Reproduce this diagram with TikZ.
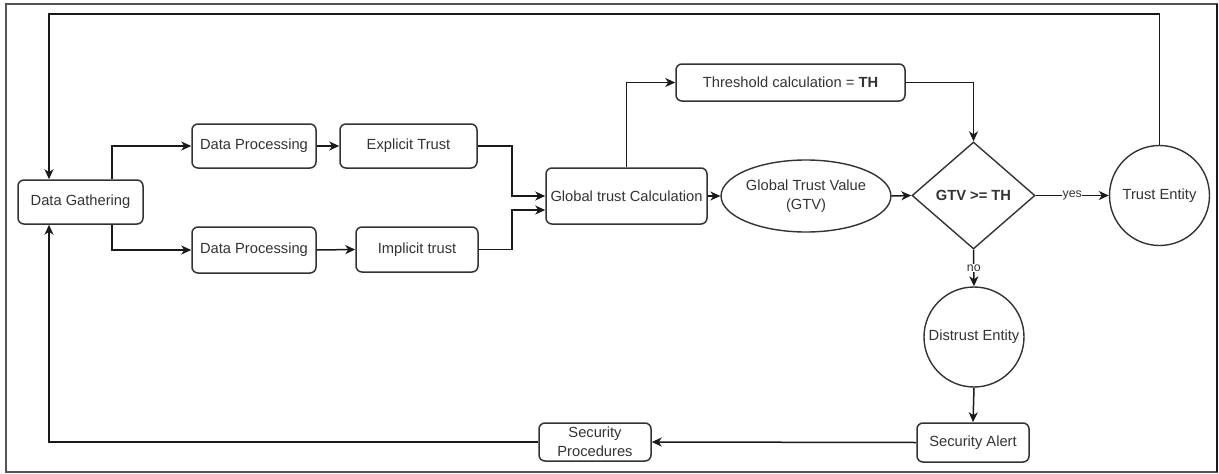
\documentclass[tikz,border=0pt]{standalone}
\usepackage{fontspec}
\setmainfont{Liberation Sans}
\usetikzlibrary{arrows.meta,shapes.geometric,calc}
\definecolor{ink}{HTML}{333333}
\definecolor{edge}{HTML}{1A1A1A}
\definecolor{frame}{HTML}{555555}

\begin{document}
\begin{tikzpicture}[x=1pt,y=-1pt,
  every node/.style={font=\fontsize{14.7}{19}\selectfont, text=ink},
  box/.style={draw=ink, line width=1.5pt, rounded corners=6pt, inner sep=0pt, align=center},
  round/.style={draw=ink, line width=1.4pt, circle, inner sep=0pt, minimum size=100pt},
  conn/.style={draw=edge, line width=1.5pt, -{Stealth[length=10pt,width=9pt,inset=3pt]}},
  lbl/.style={font=\fontsize{12.4}{14}\selectfont, fill=white, inner sep=0.5pt}
]
\useasboundingbox (0,0) rectangle (1219,474);

% outer frame
\draw[frame, line width=1.2pt] (6,4) rectangle (1217,472);
\draw[edge, line width=2pt] (1217,4) -- (1217,472);

% processing chain
\node[box, minimum width=125pt, minimum height=44pt] (dg) at (80.5,202) {Data Gathering};
\node[box, minimum width=124pt, minimum height=44pt] (dp1) at (254,146) {Data Processing};
\node[box, minimum width=137pt, minimum height=44pt] (et) at (408.5,146) {Explicit Trust};
\node[box, minimum width=124pt, minimum height=46pt] (dp2) at (254,250) {Data Processing};
\node[box, minimum width=122pt, minimum height=45pt] (it) at (417,249.5) {Implicit trust};
\node[box, minimum width=161pt, minimum height=56pt] (gtc) at (626.5,196) {Global trust Calculation};
\node[box, minimum width=229pt, minimum height=37pt] (th) at (790.5,82.5) {Threshold calculation = \textbf{TH}};
\node[draw=ink, line width=1.4pt, ellipse, inner sep=0pt, minimum width=136pt, minimum height=72pt, align=center] (gtv) at (806,196) {Global Trust Value\\(GTV)};
\node[draw=ink, line width=1.4pt, diamond, inner sep=0pt, minimum width=123pt, minimum height=107pt] (dia) at (973.5,195.5) {\textbf{GTV >= TH}};
\node[round] (te) at (1159.5,195.5) {Trust Entity};
\node[round] (de) at (974,337) {Distrust Entity};
\node[box, minimum width=112pt, minimum height=39pt] (sa) at (973,442.5) {Security Alert};
\node[box, minimum width=112pt, minimum height=38pt] (sp) at (595,442) {Security\\Procedures};

% routing points
\coordinate (tl) at (49,14);
\coordinate (bl) at (49,443);
\coordinate (fork) at (112,202);
\coordinate (join) at (512,196);

% connectors
\draw[conn] (te.north) |- (tl) -- (tl |- dg.north);
\draw[conn] (sp.west) -| (bl |- dg.south);
\draw[conn] (fork |- dg.north) |- (dp1.west);
\draw[conn] (fork |- dg.south) |- (dp2.west);
\draw[conn] (dp1.east) -- (et.west);
\draw[conn] (dp2.east) -- (it.west);
\draw[conn] (et.east) -| (join) -- (gtc.west);
\draw[conn] (it.east) -| ($(join)+(0,14)$) -- ([yshift=-14pt]gtc.west);
\draw[conn] (gtc.east) -- (gtv.west);
\draw[conn] (gtv.east) -- (dia.west);
\draw[conn] (gtc.north) |- (th.west);
\draw[conn] (th.east) -| (dia.north);
\draw[conn] (dia.east) -- node[lbl]{yes} (te.west);
\draw[conn] (dia.south) -- node[lbl]{no} (de.north);
\draw[conn] (de.south) -- (sa.north);
\draw[conn] (sa.west) -- (sp.east);
\end{tikzpicture}
\end{document}
